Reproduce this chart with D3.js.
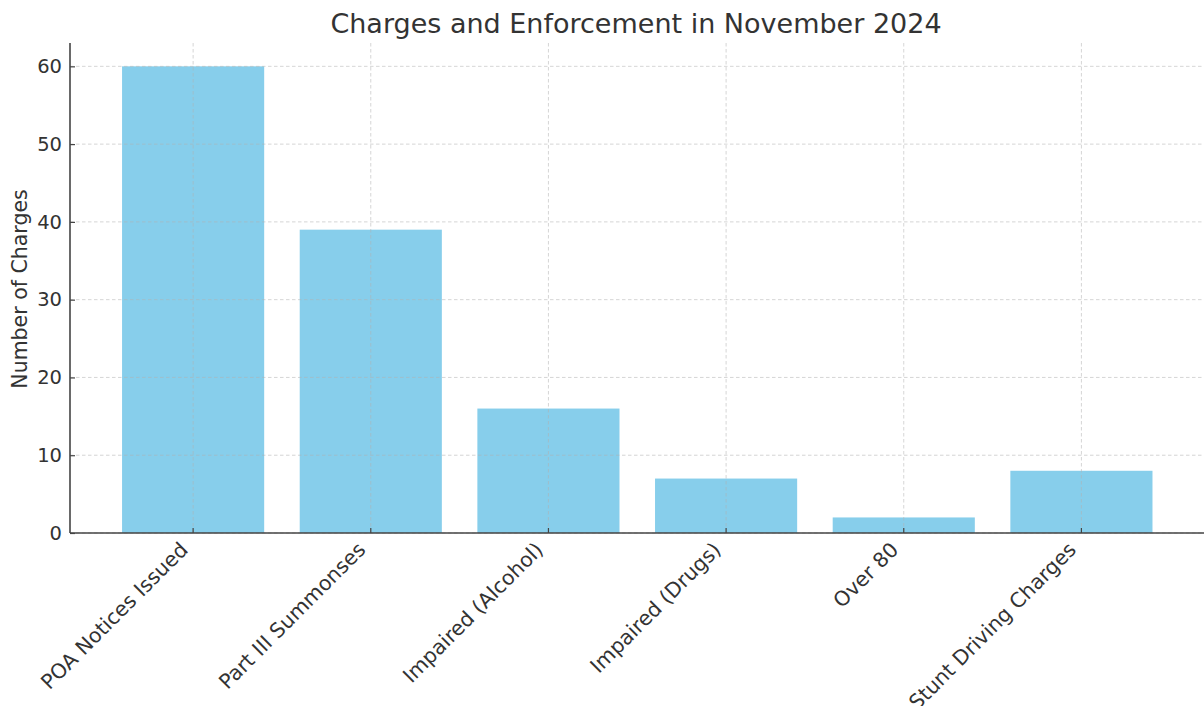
<!DOCTYPE html>
<html>
<head>
<meta charset="utf-8">
<script src="https://cdn.jsdelivr.net/npm/d3@7"></script>
<style>
  body { margin: 0; background: #fff; }
  text { font-family: "DejaVu Sans", sans-serif; fill: #333; }
</style>
</head>
<body>
<script>
// chart data
const categories = ['POA Notices Issued', 'Part III Summonses', 'Impaired (Alcohol)', 'Impaired (Drugs)', 'Over 80', 'Stunt Driving Charges'];
const charges = [60, 39, 16, 7, 2, 8];
const yTicks = [0, 10, 20, 30, 40, 50, 60];

const [w, h] = [1204, 706];
const [padLeft, padTop, padBottom] = [70, 43, 533];

const svg = d3.select('body')
    .append('svg')
    .attr('width', w)
    .attr('height', h);

// x is index based, like matplotlib's bar positions
const xScale = d3.scaleLinear()
    .domain([-0.693, 5.69])
    .range([padLeft, w]);
const step = xScale(1) - xScale(0);
const barW = step * 0.8;

const yScale = d3.scaleLinear()
    .domain([0, 63])
    .range([padBottom, padTop]);

// bars
svg.append('g')
    .selectAll('rect')
    .data(charges)
    .enter()
    .append('rect')
    .attr('x', (d, i) => xScale(i) - barW / 2)
    .attr('y', d => yScale(d))
    .attr('width', barW)
    .attr('height', d => padBottom - yScale(d))
    .attr('fill', '#87CEEB');

// grid on top of bars
const grid = svg.append('g')
    .attr('stroke', '#b0b0b0')
    .attr('stroke-opacity', 0.6)
    .attr('stroke-dasharray', '3.5,2.5')
    .attr('stroke-width', 0.9);
grid.selectAll('.hg')
    .data(yTicks)
    .enter()
    .append('line')
    .attr('x1', padLeft).attr('x2', w)
    .attr('y1', d => yScale(d)).attr('y2', d => yScale(d));
grid.selectAll('.vg')
    .data(categories)
    .enter()
    .append('line')
    .attr('x1', (d, i) => xScale(i)).attr('x2', (d, i) => xScale(i))
    .attr('y1', padTop).attr('y2', padBottom);

// y axis, ticks point inward
const yAxis = d3.axisLeft(yScale)
    .tickValues(yTicks)
    .tickSize(-5)
    .tickPadding(8);
const gy = svg.append('g')
    .attr('transform', `translate(${padLeft}, 0)`)
    .call(yAxis);
gy.select('.domain').attr('stroke', '#444').attr('stroke-width', 1.6).attr('d', `M0,${padTop}V${padBottom}`);
gy.selectAll('.tick line').attr('stroke', '#444').attr('stroke-width', 1.2);
gy.selectAll('.tick text')
    .style('font-size', '19.5px')
    .style('font-family', '"DejaVu Sans", sans-serif')
    .attr('fill', '#333');

// x axis line + ticks
svg.append('line')
    .attr('x1', padLeft).attr('x2', w)
    .attr('y1', padBottom).attr('y2', padBottom)
    .attr('stroke', '#444')
    .attr('stroke-width', 1.6);
svg.append('g')
    .selectAll('line')
    .data(categories)
    .enter()
    .append('line')
    .attr('x1', (d, i) => xScale(i)).attr('x2', (d, i) => xScale(i))
    .attr('y1', padBottom).attr('y2', padBottom - 5)
    .attr('stroke', '#444')
    .attr('stroke-width', 1.2);

// rotated category labels
svg.append('g')
    .selectAll('text')
    .data(categories)
    .enter()
    .append('text')
    .attr('transform', (d, i) => `translate(${xScale(i) - 4}, ${padBottom + 18}) rotate(-45)`)
    .attr('text-anchor', 'end')
    .style('font-size', '20.5px')
    .text(d => d);

// title and y label
svg.append('text')
    .attr('x', 636)
    .attr('y', 33)
    .attr('text-anchor', 'middle')
    .style('font-size', '27px')
    .text('Charges and Enforcement in November 2024');

svg.append('text')
    .attr('transform', `translate(27, 289) rotate(-90)`)
    .attr('text-anchor', 'middle')
    .style('font-size', '20.5px')
    .text('Number of Charges');
</script>
</body>
</html>
